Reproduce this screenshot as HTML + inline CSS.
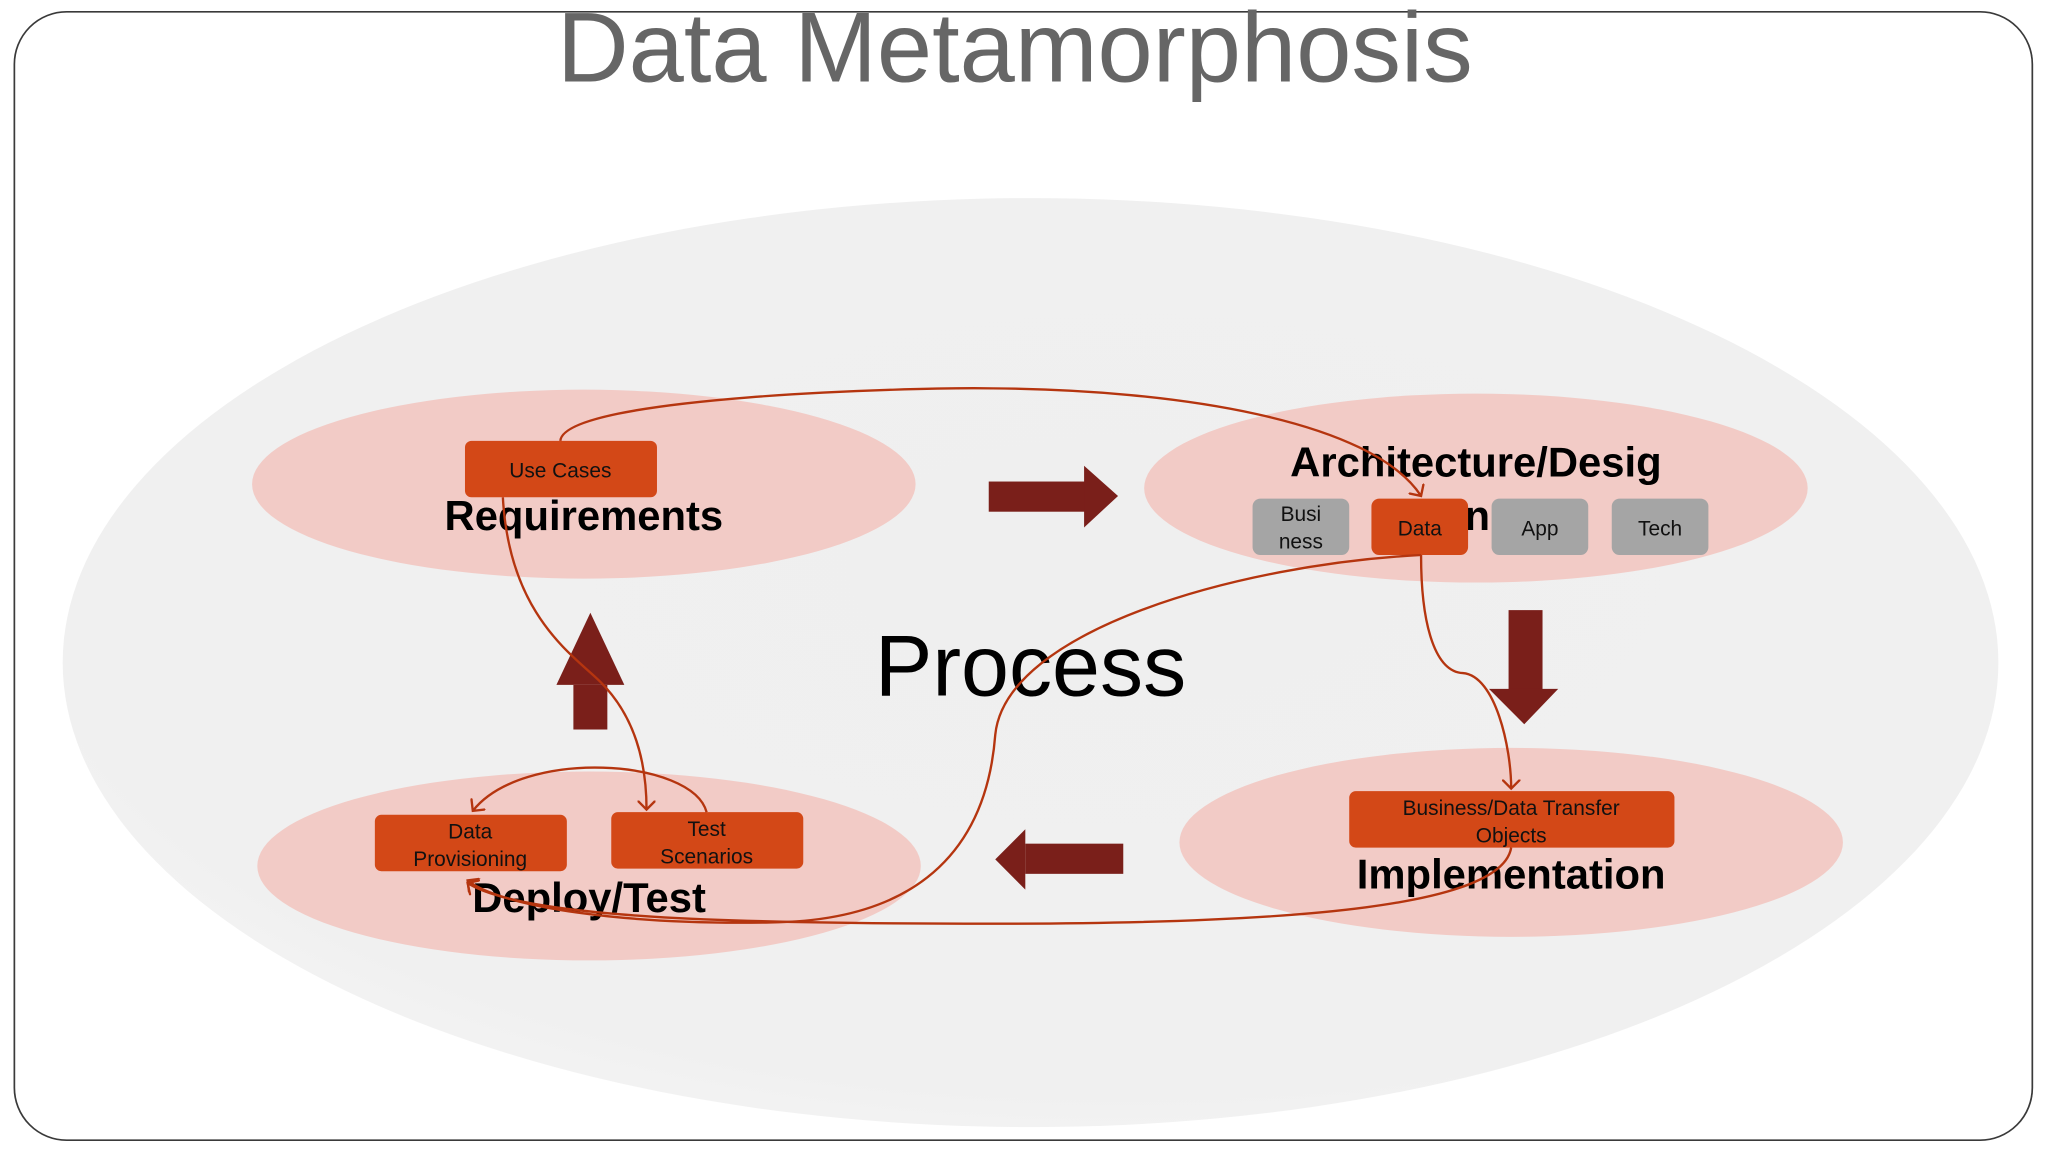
<!DOCTYPE html>
<html><head><meta charset="utf-8"><style>
html,body{margin:0;padding:0;background:#fff;}
svg{display:block;}
text{font-family:"Liberation Sans",Arial,sans-serif;}
</style></head><body>
<svg width="2048" height="1152" viewBox="0 0 1568 878" preserveAspectRatio="none" xmlns="http://www.w3.org/2000/svg">
<defs>
<marker id="ah" markerWidth="14" markerHeight="14" refX="7" refY="7" orient="auto" markerUnits="userSpaceOnUse">
<polyline points="0,0 7,7 0,14" fill="none" stroke="#b5350f" stroke-width="1.8"/>
</marker>
<radialGradient id="bg" cx="0.55" cy="0.4" r="0.7">
<stop offset="0" stop-color="#efefef"/><stop offset="0.8" stop-color="#f0f0f0"/><stop offset="1" stop-color="#f6f6f6"/>
</radialGradient>
</defs>
<rect x="11" y="9" width="1545" height="860" rx="40" fill="#fff" stroke="#3a3a3a" stroke-width="1.3"/>
<text x="777" y="62" text-anchor="middle" font-size="76" fill="#666">Data Metamorphosis</text>
<ellipse cx="789" cy="505" rx="741" ry="354" fill="url(#bg)"/>
<g fill="#f2cbc6">
<ellipse cx="447" cy="369" rx="254" ry="72"/>
<ellipse cx="1130" cy="372" rx="254" ry="72"/>
<ellipse cx="1157" cy="642" rx="254" ry="72"/>
<ellipse cx="451" cy="660" rx="254" ry="72"/>
</g>
<text x="789" y="530" text-anchor="middle" font-size="66" fill="#000">Process</text>
<g fill="#7a1f1a">
<rect x="757" y="367" width="74" height="23"/><polygon points="830,355 856,378 830,402"/>
<rect x="1155" y="465" width="26" height="61"/><polygon points="1140,525 1193,525 1167,552"/>
<rect x="785" y="643" width="75" height="23"/><polygon points="785,632 762,655 785,678"/>
<rect x="439" y="522" width="26" height="34"/><polygon points="426,522 478,522 452,467"/>
</g>
<g font-weight="bold" fill="#000" text-anchor="middle" font-size="32">
<text x="447" y="404">Requirements</text>
<text x="1130" y="363">Architecture/Desig</text>
<text x="1131" y="404">n</text>
<text x="1157" y="677">Implementation</text>
<text x="451" y="695">Deploy/Test</text>
</g>
<g fill="#a5a5a5">
<rect x="959" y="380" width="74" height="43" rx="6"/>
<rect x="1142" y="380" width="74" height="43" rx="6"/>
<rect x="1234" y="380" width="74" height="43" rx="6"/>
</g>
<g fill="#d34817">
<rect x="1050" y="380" width="74" height="43" rx="6"/>
<rect x="356" y="336" width="147" height="43" rx="5"/>
<rect x="1033" y="603" width="249" height="43" rx="5"/>
<rect x="287" y="621" width="147" height="43" rx="5"/>
<rect x="468" y="619" width="147" height="43" rx="5"/>
</g>
<g font-size="16" fill="#111" text-anchor="middle">
<text x="996" y="397">Busi</text><text x="996" y="418">ness</text>
<text x="1087" y="408">Data</text>
<text x="1179" y="408">App</text>
<text x="1271" y="408">Tech</text>
<text x="429" y="364">Use Cases</text>
<text x="1157" y="621">Business/Data Transfer</text><text x="1157" y="642">Objects</text>
<text x="360" y="639">Data</text><text x="360" y="660">Provisioning</text>
<text x="541" y="637">Test</text><text x="541" y="658">Scenarios</text>
</g>
<g fill="none" stroke="#b5350f" stroke-width="1.8">
<path d="M429,336 C432,302 700,295 760,296 C900,297 1050,320 1088,378" marker-end="url(#ah)"/>
<path d="M385,379 C390,470 440,500 460,520 C490,550 495,590 495,617" marker-end="url(#ah)"/>
<path d="M1088,423 C1088,480 1100,512 1120,513 C1145,515 1157,570 1157,601" marker-end="url(#ah)"/>
<path d="M1088,423 C950,430 770,480 762,560 C755,650 700,702 590,703 C480,705 385,692 358,671" marker-end="url(#ah)"/>
<path d="M1157,646 C1150,690 1000,704 760,704 C560,704 400,700 358,673" marker-end="url(#ah)"/>
<path d="M541,619 C530,578 400,570 362,618" marker-end="url(#ah)"/>
</g>
</svg>
</body></html>
